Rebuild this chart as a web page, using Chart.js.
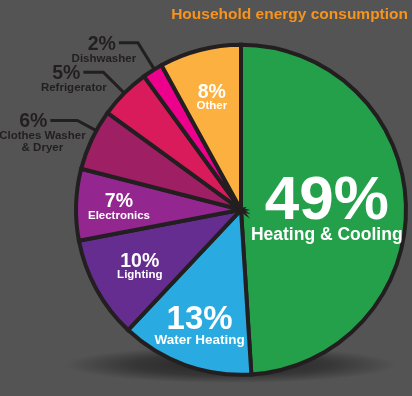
<!DOCTYPE html>
<html>
<head>
<meta charset="utf-8">
<script src="https://cdn.jsdelivr.net/npm/chart.js@4.4.1/dist/chart.umd.min.js"></script>
<style>
  html, body { margin: 0; padding: 0; background: #545454; }
  canvas { display: block; }
</style>
</head>
<body>
<canvas id="energyChart" width="412" height="396"></canvas>
<script>
// data (percent of household energy use)
const categories = ['Heating & Cooling', 'Water Heating', 'Lighting', 'Electronics', 'Clothes Washer\n& Dryer', 'Refrigerator', 'Dishwasher', 'Other'];
const shares = [49, 13, 10, 7, 6, 5, 2, 8];

const sliceColors = ['#24a04a', '#29abe2', '#662d91', '#93278f', '#9e1f63', '#d91b5c', '#ec008c', '#fbb040'];
const FONT = '"Liberation Sans", Arial, Helvetica, sans-serif';
const INK = '#231f20';

// how each slice gets labelled: inside at r * radius, or outside with a leader line
const labelStyle = [
    { inside: true, r: 0.52, pct: 62, name: 17.5, gap: 8 },
    { inside: true, r: 0.74, pct: 33, name: 13.5, gap: 5 },
    { inside: true, r: 0.70, pct: 19.5, name: 11.5, gap: 3 },
    { inside: true, r: 0.74, pct: 19.5, name: 11.5, gap: 3 },
    { inside: false, at: 0.66, elbow: 1.13, arm: 27, nameDx: -5 },
    { inside: false, at: 0.5, elbow: 1.18, arm: 20, nameDx: -6.5 },
    { inside: false, at: 0.6, elbow: 1.19, arm: 19, nameDx: -12 },
    { inside: true, r: 0.71, pct: 19.5, name: 11.5, gap: 3 }
];

// soft shadow under the pie
const pieShadow = {
    id: 'pieShadow',
    beforeDatasetsDraw(chart) {
        const arc = chart.getDatasetMeta(0).data[0];
        if (!arc) return;
        const ctx = chart.ctx;
        const R = arc.outerRadius;
        const cx = arc.x - 0.06 * R, cy = arc.y + 0.94 * R;
        ctx.save();
        ctx.translate(cx, cy);
        ctx.scale(1, 0.11);
        const g = ctx.createRadialGradient(0, 0, 0, 0, 0, R);
        g.addColorStop(0, 'rgba(20,20,20,0.75)');
        g.addColorStop(0.6, 'rgba(20,20,20,0.45)');
        g.addColorStop(1, 'rgba(20,20,20,0)');
        ctx.fillStyle = g;
        ctx.beginPath();
        ctx.arc(0, 0, R, 0, Math.PI * 2);
        ctx.fill();
        ctx.restore();
    }
};

const sliceLabels = {
    id: 'sliceLabels',
    afterDatasetsDraw(chart) {
        const ctx = chart.ctx;
        chart.getDatasetMeta(0).data.forEach((arc, i) => {
            const st = labelStyle[i];
            const pct = shares[i] + '%';
            const lines = categories[i].split('\n');
            ctx.save();
            if (st.inside) {
                const mid = (arc.startAngle + arc.endAngle) / 2;
                const cx = arc.x + Math.cos(mid) * arc.outerRadius * st.r;
                const cy = arc.y + Math.sin(mid) * arc.outerRadius * st.r;
                const pcap = 0.72 * st.pct, ncap = 0.72 * st.name;
                const h = pcap + st.gap + ncap;
                ctx.fillStyle = '#ffffff';
                ctx.textAlign = 'center';
                ctx.textBaseline = 'alphabetic';
                ctx.font = 'bold ' + st.pct + 'px ' + FONT;
                ctx.fillText(pct, cx, cy - h / 2 + pcap);
                ctx.font = 'bold ' + st.name + 'px ' + FONT;
                ctx.fillText(lines.join(' '), cx, cy + h / 2);
            } else {
                const a = arc.startAngle + (arc.endAngle - arc.startAngle) * st.at;
                const R = arc.outerRadius;
                const x0 = arc.x + Math.cos(a) * R, y0 = arc.y + Math.sin(a) * R;
                const x1 = arc.x + Math.cos(a) * R * st.elbow, y1 = arc.y + Math.sin(a) * R * st.elbow;
                const x2 = x1 - st.arm;
                ctx.strokeStyle = INK;
                ctx.lineWidth = 3;
                ctx.lineJoin = 'miter';
                ctx.beginPath();
                ctx.moveTo(x0, y0);
                ctx.lineTo(x1, y1);
                ctx.lineTo(x2, y1);
                ctx.stroke();
                ctx.fillStyle = INK;
                ctx.textBaseline = 'alphabetic';
                ctx.textAlign = 'right';
                ctx.font = 'bold 19.5px ' + FONT;
                const base = y1 + 0.36 * 19.5;
                const right = x2 - 3;
                ctx.fillText(pct, right, base);
                ctx.textAlign = 'center';
                ctx.font = 'bold 11.5px ' + FONT;
                lines.forEach((ln, k) => ctx.fillText(ln, right + st.nameDx, base + 12 + k * 12));
            }
            ctx.restore();
        });
    }
};

new Chart(document.getElementById('energyChart'), {
    type: 'pie',
    data: {
        labels: categories,
        datasets: [{
            data: shares,
            backgroundColor: sliceColors,
            borderColor: INK,
            borderWidth: 4,
            borderJoinStyle: 'miter'
        }]
    },
    options: {
        responsive: false,
        animation: false,
        layout: { padding: { left: 74, right: 4, top: 0, bottom: 0 } },
        plugins: {
            legend: { display: false },
            tooltip: { enabled: false },
            title: {
                display: true,
                text: 'Household energy consumption',
                align: 'end',
                color: '#f7941d',
                font: { family: FONT, size: 15.5, weight: 'bold' },
                padding: { top: 5, bottom: 0 }
            }
        }
    },
    plugins: [pieShadow, sliceLabels]
});
</script>
</body>
</html>
